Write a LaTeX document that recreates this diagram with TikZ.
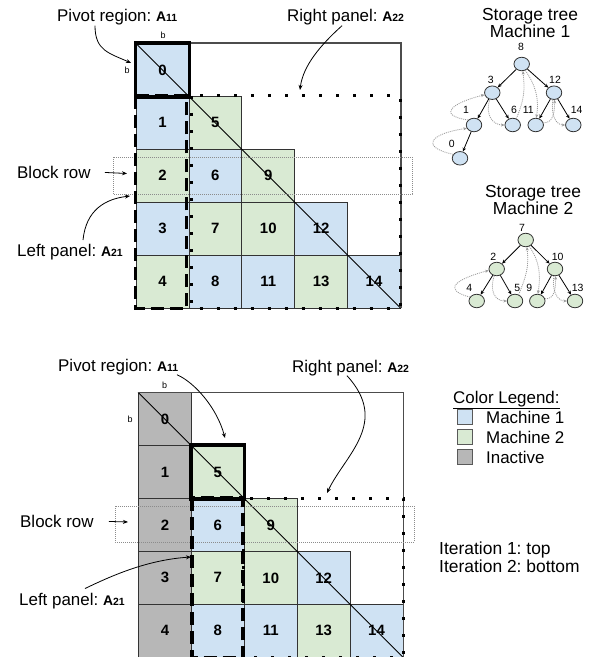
\documentclass[tikz,border=0pt]{standalone}
\usepackage{fontspec}
\setmainfont{Liberation Sans}
\usetikzlibrary{arrows.meta,shapes.geometric}
\definecolor{mone}{HTML}{CFE2F3}
\definecolor{mtwo}{HTML}{D9EAD3}
\definecolor{inact}{HTML}{B7B7B7}
\definecolor{thread}{HTML}{9A9A9A}
\newcommand\matA[1]{{\bfseries\fontsize{14}{16}\selectfont A\fontsize{10.5}{12}\selectfont #1}}
\frenchspacing
\begin{document}
\begin{tikzpicture}[x=1bp,y=-1bp,
  cell/.style={draw=black!80,line width=0.8bp,minimum width=52.9bp,minimum height=52.9bp,inner sep=0pt,font=\fontsize{15}{15}\selectfont\bfseries},
  lbl/.style={inner sep=0pt,anchor=base west,font=\fontsize{17}{20}\selectfont},
  ttl/.style={inner sep=0pt,anchor=base,font=\fontsize{17.5}{20}\selectfont},
  small/.style={inner sep=0pt,font=\fontsize{9}{9}\selectfont},
  arr/.style={line width=0.8bp,-{Stealth[length=5bp,width=4bp]}},
  pivotbox/.style={line width=3.5bp},
  leftbox/.style={line width=3.5bp,dash pattern=on 13bp off 6bp},
  rightbox/.style={line width=3bp,dash pattern=on 3bp off 14bp},
  diag/.style={line width=0.8bp},
  frame/.style={line width=1.2bp,draw=black!70},
  blockrow/.style={draw=black!45,line width=0.8bp,dash pattern=on 1bp off 1bp},
  tnode/.style={ellipse,draw=black!80,line width=0.8bp,minimum width=15.5bp,minimum height=13.5bp,inner sep=0pt},
  tlbl/.style={inner sep=0pt,font=\fontsize{10.5}{10.5}\selectfont},
  tedge/.style={line width=0.8bp,-{Stealth[length=4bp,width=3.5bp]}},
  tthread/.style={draw=thread,line width=0.8bp,dash pattern=on 1bp off 1bp,-{Stealth[length=3.5bp,width=3bp]}},
  legbox/.style={draw=black!65,line width=0.8bp,minimum size=15bp,inner sep=0pt}
]
\useasboundingbox[fill=white] (0,0) rectangle (604,657);

% ---------- upper matrix (iteration 1) ----------
\begin{scope}[shift={(136,43.5)}]
\foreach \n/\c/\r/\f in {0/0/0/mone,1/0/1/mone,2/0/2/mtwo,3/0/3/mone,4/0/4/mtwo,
  5/1/1/mtwo,6/1/2/mone,7/1/3/mtwo,8/1/4/mone,9/2/2/mtwo,10/2/3/mtwo,11/2/4/mone,
  12/3/3/mone,13/3/4/mtwo,14/4/4/mone}
  \node[cell,fill=\f] (t\n) at ({52.9*(\c+0.5)},{52.9*(\r+0.5)}) {\n};
\end{scope}
\draw[diag] (t0.north west) -- (t14.south east);
\draw[frame] (t0.north west) -- (t0.north west -| t14.south east) -- (t14.south east);
\draw[blockrow] (113,157) rectangle (412,194);
\draw[pivotbox] (t0.north west) rectangle (t0.south east);
\draw[leftbox] (t1.north west) rectangle ([xshift=-3bp]t4.south east);
\draw[rightbox] ([xshift=2.5bp]t5.north west) rectangle (t14.south east);
\node[small] (bt1) at (163,35) {b};
\node[small] (bl1) at (127,70) {b};

% labels and pointers, upper
\node[lbl] (piv1) at (57,22) {Pivot region: \matA{11}};
\node[lbl] (rp1) at (287,22) {Right panel: \matA{22}};
\node[lbl] (blk1) at (17,178.5) {Block row};
\node[lbl] (lp1) at (17,256.5) {Left panel: \matA{21}};
\coordinate (pivtip1) at (131,63);
\coordinate (rptip1) at (300,90);
\coordinate (blktip1) at (127,173.5);
\coordinate (lptip1) at (130,196);
\draw[arr] ([xshift=38bp]piv1.south west) .. controls +(0,25) and +(-22,-10) .. (pivtip1);
\draw[arr] ([xshift=55bp]rp1.south west) .. controls +(-20,18) and +(3,-25) .. (rptip1);
\draw[arr] ([xshift=14bp]blk1.east) -- (blktip1);
\draw[arr] ([xshift=66bp,yshift=4bp]lp1.north west) .. controls +(3,-30) and +(-25,3) .. (lptip1);

% ---------- lower matrix (iteration 2) ----------
\begin{scope}[shift={(138.5,392.7)}]
\foreach \n/\c/\r/\f in {0/0/0/inact,1/0/1/inact,2/0/2/inact,3/0/3/inact,4/0/4/inact,
  5/1/1/mtwo,6/1/2/mone,7/1/3/mtwo,8/1/4/mone,9/2/2/mtwo,10/2/3/mtwo,11/2/4/mone,
  12/3/3/mone,13/3/4/mtwo,14/4/4/mone}
  \node[cell,fill=\f] (u\n) at ({52.9*(\c+0.5)},{52.9*(\r+0.5)}) {\n};
\end{scope}
\draw[diag] (u0.north west) -- (u14.south east);
\draw[frame] (u0.north west) -- (u0.north west -| u14.south east) -- (u14.south east);
\draw[blockrow] (115,506) rectangle (414,542);
\draw[pivotbox] (u5.north west) rectangle (u5.south east);
\draw[leftbox] ([xshift=1bp]u6.north west) rectangle ([xshift=-1.5bp]u8.south east);
\draw[rightbox] (u9.north west) rectangle (u14.south east);
\node[small] (bt2) at (164.7,385) {b};
\node[small] (bl2) at (130,419.3) {b};

% labels and pointers, lower
\node[lbl] (piv2) at (58,371) {Pivot region: \matA{11}};
\node[lbl] (rp2) at (292,372) {Right panel: \matA{22}};
\node[lbl] (blk2) at (20,527.5) {Block row};
\node[lbl] (lp2) at (19,605) {Left panel: \matA{21}};
\coordinate (pivtip2) at (225,438);
\coordinate (rptip2) at (327,493);
\coordinate (blktip2) at (128,522);
\coordinate (lptip2) at (191,557);
\draw[arr] ([xshift=119bp]piv2.south west) .. controls +(18,8) and +(-8,-30) .. (pivtip2);
\draw[arr] ([xshift=55bp]rp2.south west) .. controls +(43,47) and +(18,-38) .. (rptip2);
\draw[arr] ([xshift=15bp]blk2.east) -- (blktip2);
\draw[arr] ([xshift=66bp,yshift=4bp]lp2.north west) .. controls +(25,-12) and +(-45,3) .. (lptip2);

% ---------- storage tree, machine 1 ----------
\node[ttl] (tt1a) at (530,21) {Storage tree};
\node[ttl] (tt1b) at (530,38) {Machine 1};
\node[tnode,fill=mone] (m8) at (521.7,64) {};
\node[tnode,fill=mone] (m3) at (492.3,92.7) {};
\node[tnode,fill=mone] (m12) at (554,92.7) {};
\node[tnode,fill=mone] (m1) at (474,125) {};
\node[tnode,fill=mone] (m6) at (512.7,125) {};
\node[tnode,fill=mone] (m11) at (535.7,125) {};
\node[tnode,fill=mone] (m14) at (573.3,125) {};
\node[tnode,fill=mone] (m0) at (460,158.3) {};
\node[tlbl] (l8) at (521,47.3) {8};
\node[tlbl] (l3) at (490.7,80) {3};
\node[tlbl] (l12) at (555,80) {12};
\node[tlbl] (l1) at (466,110) {1};
\node[tlbl] (l6) at (514,110) {6};
\node[tlbl] (l11) at (528.3,110) {11};
\node[tlbl] (l14) at (576.7,110) {14};
\node[tlbl] (l0) at (451.7,144) {0};
\draw[tedge] (m8) -- (m3);
\draw[tedge] (m8) -- (m12);
\draw[tedge] (m3) -- (m1);
\draw[tedge] (m3) -- (m6);
\draw[tedge] (m12) -- (m11);
\draw[tedge] (m12) -- (m14);
\draw[tedge] (m1) -- (m0);
\draw[tthread] (m0.150) .. controls +(-35,-8) and +(-35,5) .. (m1.205);
\draw[tthread] (m1.140) .. controls +(-32,-5) and +(-32,8) .. (m3.195);
\draw[tthread] (m3.250) .. controls +(-5,15) and +(-12,0) .. (m6.180);
\draw[tthread] (m6.60) .. controls +(8,-20) and +(2,20) .. (m8.280);
\draw[tthread] (m8.300) .. controls +(10,15) and +(3,-20) .. (m11.85);
\draw[tthread] (m11.15) .. controls +(10,0) and +(0,12) .. (m12.275);
\draw[tthread] (m12.260) .. controls +(-2,18) and +(-8,0) .. (m14.180);

% ---------- storage tree, machine 2 ----------
\node[ttl] (tt2a) at (533,197.5) {Storage tree};
\node[ttl] (tt2b) at (533,214) {Machine 2};
\node[tnode,fill=mtwo] (n7) at (525.7,240) {};
\node[tnode,fill=mtwo] (n2) at (496.7,269) {};
\node[tnode,fill=mtwo] (n10) at (555,269) {};
\node[tnode,fill=mtwo] (n4) at (476.7,301) {};
\node[tnode,fill=mtwo] (n5) at (515,301) {};
\node[tnode,fill=mtwo] (n9) at (537.3,301) {};
\node[tnode,fill=mtwo] (n13) at (575,301) {};
\node[tlbl] (k7) at (522,228) {7};
\node[tlbl] (k2) at (493.3,257.3) {2};
\node[tlbl] (k10) at (557.7,257.3) {10};
\node[tlbl] (k4) at (469.3,287.7) {4};
\node[tlbl] (k5) at (517.3,287.7) {5};
\node[tlbl] (k9) at (529.3,287.7) {9};
\node[tlbl] (k13) at (577.7,287.7) {13};
\draw[tedge] (n7) -- (n2);
\draw[tedge] (n7) -- (n10);
\draw[tedge] (n2) -- (n4);
\draw[tedge] (n2) -- (n5);
\draw[tedge] (n10) -- (n9);
\draw[tedge] (n10) -- (n13);
\draw[tthread] (n4.150) .. controls +(-30,-8) and +(-30,8) .. (n2.190);
\draw[tthread] (n2.250) .. controls +(-5,15) and +(-12,0) .. (n5.180);
\draw[tthread] (n5.60) .. controls +(8,-20) and +(2,20) .. (n7.280);
\draw[tthread] (n7.300) .. controls +(10,15) and +(3,-20) .. (n9.85);
\draw[tthread] (n9.15) .. controls +(10,0) and +(0,12) .. (n10.275);
\draw[tthread] (n10.260) .. controls +(-2,18) and +(-8,0) .. (n13.180);

% ---------- legend ----------
\node[lbl] (leghead) at (453,403) {\underline{Color Legend:}};
\node[legbox,fill=mone] (lg1) at (465,417) {};
\node[legbox,fill=mtwo] (lg2) at (465,437) {};
\node[legbox,fill=inact] (lg3) at (465,457) {};
\node[lbl] (lt1) at (486,423) {Machine 1};
\node[lbl] (lt2) at (486,443) {Machine 2};
\node[lbl] (lt3) at (486,463) {Inactive};
\node[lbl,font=\fontsize{17.5}{20}\selectfont] (it1) at (439,554) {Iteration 1: top};
\node[lbl,font=\fontsize{17.5}{20}\selectfont] (it2) at (439,572) {Iteration 2: bottom};
\end{tikzpicture}
\end{document}
